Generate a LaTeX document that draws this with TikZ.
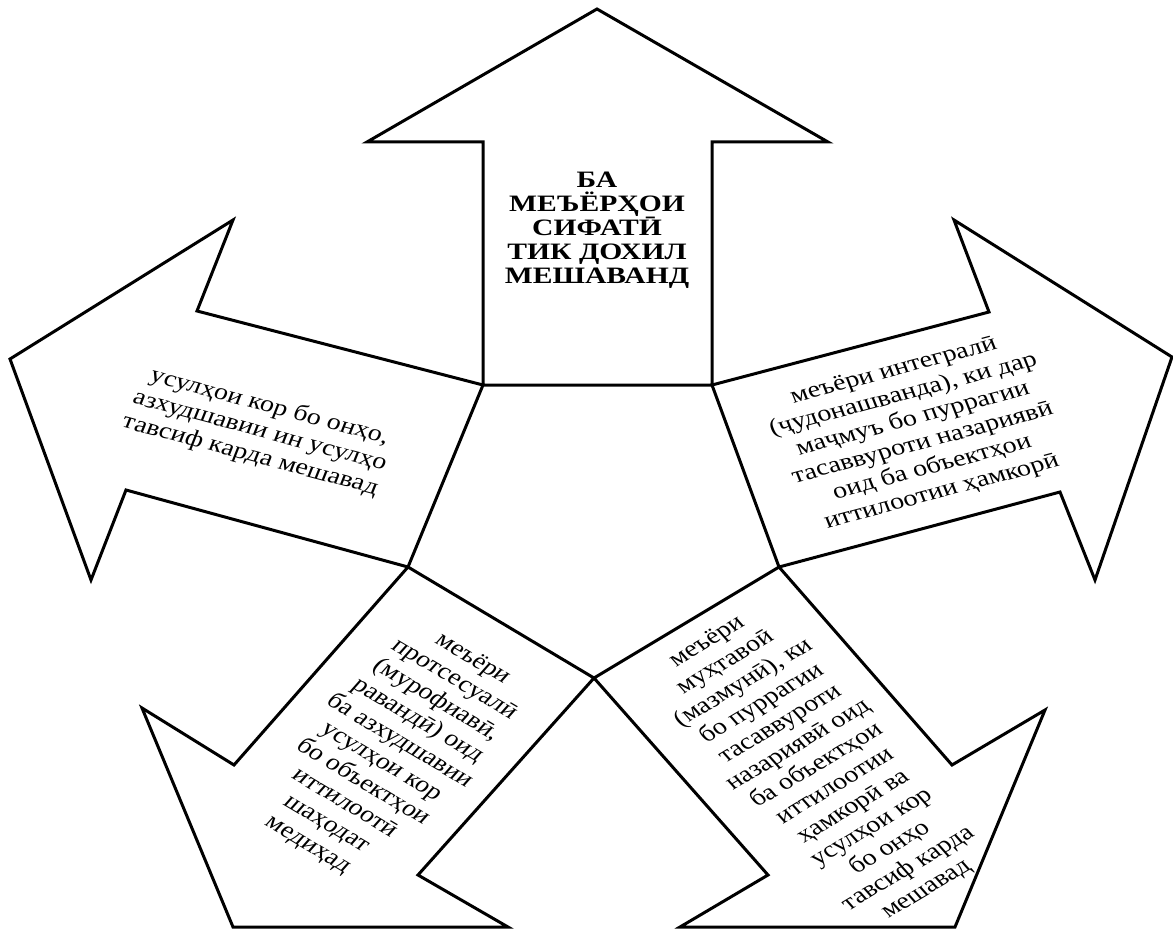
\documentclass[tikz,border=0pt]{standalone}
\usepackage{fontspec}
\setmainfont{Liberation Serif}
\begin{document}
\begin{tikzpicture}[x=1pt,y=-1pt]
\tikzset{
  arrowshape/.style={draw=black, line width=3pt, fill=white, line join=miter, miter limit=10},
  lbl/.style={align=center, inner sep=0pt, transform shape, font=\fontsize{23}{25.5}\selectfont},
  toplbl/.style={align=center, inner sep=0pt, transform shape, font=\bfseries\fontsize{23.5}{24}\selectfont}
}
\useasboundingbox (0,0) rectangle (1173,931);
% pentagon corners
\coordinate (p1) at (483,385);
\coordinate (p2) at (712,385);
\coordinate (p3) at (779,567);
\coordinate (p4) at (594,678);
\coordinate (p5) at (408,567);
% top arrow
\draw[arrowshape] (597,9) -- (828,142) -- (712,142) -- (p2) -- (p1) -- (483,142) -- (367,142) -- cycle;
% left arrow
\draw[arrowshape] (10,359) -- (233,220) -- (197,311) -- (p1) -- (p5) -- (126,490) -- (91,580) -- cycle;
% right arrow
\draw[arrowshape] (1172,357) -- (1095,580) -- (1060,492) -- (p3) -- (p2) -- (989,312) -- (954,220) -- cycle;
% bottom-left arrow (clipped at bottom)
\draw[arrowshape] (p5) -- (p4) -- (418,875) -- (508,927) -- (233,927) -- (142,708) -- (234,765) -- cycle;
% bottom-right arrow (clipped at bottom)
\draw[arrowshape] (p4) -- (p3) -- (952,765) -- (1045,710) -- (955,927) -- (680,927) -- (768,875) -- cycle;

\begin{scope}[shift={(597,230)}, xscale=1.26]
\node[toplbl] (ttop) at (0,0) {БА\\МЕЪЁРҲОИ\\СИФАТӢ\\ТИК ДОХИЛ\\МЕШАВАНД};
\end{scope}
\begin{scope}[shift={(260,431)}, xscale=1.22]
\node[lbl, rotate=-18] (tleft) at (0,0) {усулҳои кор бо онҳо,\\азхудшавии ин усулҳо\\тавсиф карда мешавад};
\end{scope}
\begin{scope}[shift={(918,432)}, xscale=1.22]
\node[lbl, rotate=18] (tright) at (0,0) {меъёри интегралӣ\\(ҷудонашванда), ки дар\\маҷмуъ бо пуррагии\\тасаввуроти назариявӣ\\оид ба объектҳои\\иттилоотии ҳамкорӣ};
\end{scope}
\begin{scope}[shift={(390,752)}, xscale=1.22]
\node[lbl, rotate=-36] (tbl) at (0,0) {меъёри\\протсесуалӣ\\(мурофиавӣ,\\равандӣ) оид\\ба азхудшавии\\усулҳои кор\\бо объектҳои\\иттилоотӣ\\шаҳодат\\медиҳад};
\end{scope}
\begin{scope}[shift={(817,766)}, xscale=1.22]
\node[lbl, rotate=36] (tbr) at (0,0) {меъёри\\муҳтавоӣ\\(мазмунӣ), ки\\бо пуррагии\\тасаввуроти\\назариявӣ оид\\ба объектҳои\\иттилоотии\\ҳамкорӣ ва\\усулҳои кор\\бо онҳо\\тавсиф карда\\мешавад};
\end{scope}
\end{tikzpicture}
\end{document}
